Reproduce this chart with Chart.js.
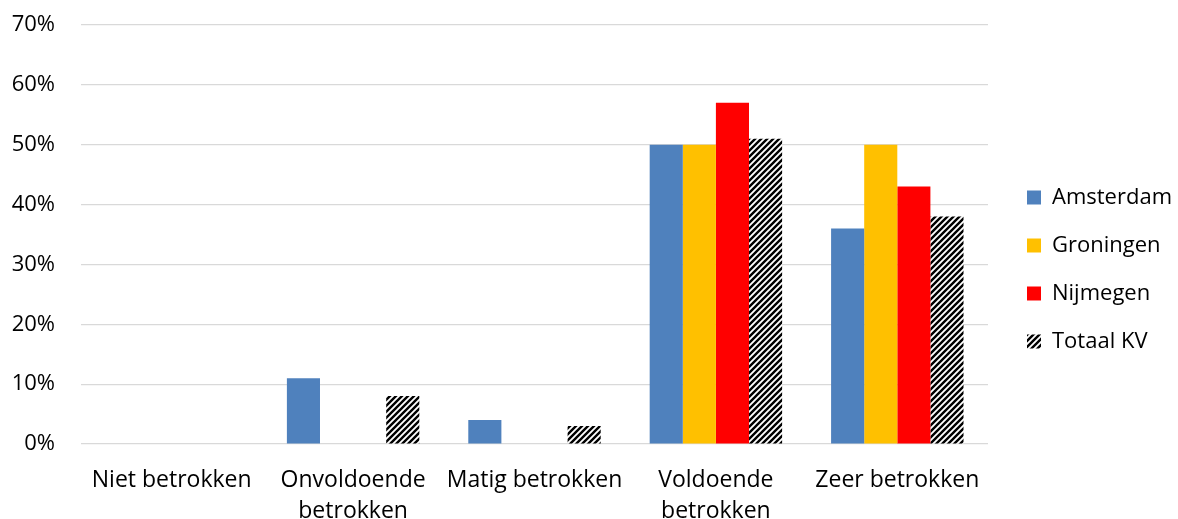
<!DOCTYPE html>
<html>
<head>
<meta charset="utf-8">
<script src="https://cdn.jsdelivr.net/npm/chart.js@4.4.1/dist/chart.umd.min.js"></script>
<style>
  html, body { margin: 0; padding: 0; background: #fff; }
  #wrap { width: 1178px; height: 519px; }
</style>
</head>
<body>
<div id="wrap"><canvas id="myChart"></canvas></div>
<script>
const categories = [
  "Niet betrokken",
  ["Onvoldoende", "betrokken"],
  "Matig betrokken",
  ["Voldoende", "betrokken"],
  "Zeer betrokken"
];
const amsterdam = [0, 11, 4, 50, 36];
const groningen = [0, 0, 0, 50, 50];
const nijmegen = [0, 0, 0, 57, 43];
const totaalKV = [0, 8, 3, 51, 38];

// diagonal hatch for Totaal KV
function makeHatch() {
  const c = document.createElement("canvas");
  c.width = 6;
  c.height = 6;
  const g = c.getContext("2d");
  g.fillStyle = "#fff";
  g.fillRect(0, 0, 6, 6);
  g.strokeStyle = "#000";
  g.lineWidth = 2.4;
  g.beginPath();
  g.moveTo(-3, 9); g.lineTo(9, -3);
  g.moveTo(-6, 6); g.lineTo(6, -6);
  g.moveTo(0, 12); g.lineTo(12, 0);
  g.stroke();
  return g.createPattern(c, "repeat");
}
const hatch = makeHatch();

const fontFamily = "'Open Sans', sans-serif";
const legendGap = 13;
const legendDrop = 10;

// push the legend a bit further from the plot than its item padding
const legendShift = {
  id: "legendShift",
  afterInit(chart) {
    const lg = chart.legend;
    const fit = lg.fit.bind(lg);
    const draw = lg.draw.bind(lg);
    lg.fit = function () { fit(); this.width += legendGap; };
    lg.draw = function () {
      const l = this.left, t = this.top, b = this.bottom;
      this.left = l + legendGap;
      this.top = t + legendDrop;
      this.bottom = b + legendDrop;
      draw();
      this.left = l;
      this.top = t;
      this.bottom = b;
    };
  }
};

const ctx = document.getElementById("myChart");
const myChart = new Chart(ctx, {
  type: "bar",
  data: {
    labels: categories,
    datasets: [
      { label: "Amsterdam", data: amsterdam, backgroundColor: "#4f81bd" },
      { label: "Groningen", data: groningen, backgroundColor: "#ffc000" },
      { label: "Nijmegen", data: nijmegen, backgroundColor: "#ff0000" },
      { label: "Totaal KV", data: totaalKV, backgroundColor: hatch }
    ]
  },
  plugins: [legendShift],
  options: {
    responsive: true,
    maintainAspectRatio: false,
    animation: false,
    datasets: {
      bar: { categoryPercentage: 0.73, barPercentage: 1.0 }
    },
    layout: { padding: { top: 0, left: 0, right: -4, bottom: 0 } },
    plugins: {
      tooltip: { enabled: false },
      legend: {
        position: "right",
        labels: {
          boxWidth: 14,
          boxHeight: 14,
          padding: 26,
          color: "#000",
          font: { family: fontFamily, size: 22 }
        }
      }
    },
    scales: {
      x: {
        grid: { display: false, drawTicks: false },
        border: { display: false },
        afterFit: function (scale) { scale.height = 75; },
        ticks: {
          color: "#000",
          padding: 21,
          maxRotation: 0,
          autoSkip: false,
          font: { family: fontFamily, size: 23, lineHeight: 1.35 }
        }
      },
      y: {
        min: 0,
        max: 70,
        grid: { color: "#d9d9d9", lineWidth: 1.2, drawTicks: false },
        border: { display: false },
        afterFit: function (scale) {
          scale.width = 81;
          scale.paddingTop = 25;
        },
        ticks: {
          stepSize: 10,
          color: "#000",
          padding: 26,
          font: { family: fontFamily, size: 22 },
          callback: function (v) { return v + "%"; }
        }
      }
    }
  }
});
</script>
</body>
</html>
